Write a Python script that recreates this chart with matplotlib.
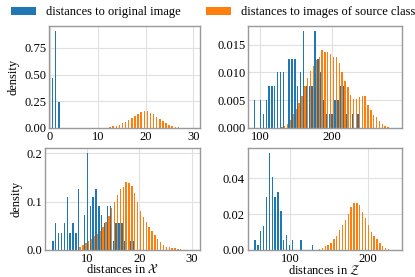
import numpy as np
import matplotlib
matplotlib.use("Agg")
import matplotlib.pyplot as plt
from matplotlib.ticker import MultipleLocator


OUTPUT_FILE = "out.png"

BLUE = "#1f77b4"
ORANGE = "#ff7f0e"
LABELS = ["distances to original image", "distances to images of source class"]
X_LABELS = [r"distances in $\mathcal{X}$", r"distances in $\mathcal{Z}$"]

# 50 shared bins per panel: first edge and bin width
BINS_A = (0.4, 0.65)
BINS_B = (91.4, 4.0)
BINS_C = (3.3, 0.55)
BINS_D = (53.9, 3.7)

# top left: density per bin
BLUE_A = [0.47, 0.91, 0.24] + [0] * 47
ORANGE_A = [0] * 15 + [
    0.001, 0.002, 0.004, 0.008, 0.014, 0.02, 0.03, 0.042, 0.058, 0.075,
    0.095, 0.115, 0.135, 0.15, 0.16, 0.156, 0.145, 0.128, 0.105, 0.085,
    0.062, 0.045, 0.03, 0.02, 0.012, 0.007, 0.004, 0.002, 0.001, 0.0005,
] + [0] * 5

# top right
BLUE_B = [
    0.005, 0, 0.005, 0.0025, 0.005, 0.0075, 0.0075, 0.0075, 0.01, 0.01,
    0.01, 0, 0.0125, 0.0125, 0.0125, 0.0075, 0.01, 0.0175, 0.0075, 0.0075,
    0.0075, 0.0175, 0.0125, 0.01, 0.005, 0.0025, 0.0025, 0.0025, 0.005, 0.005,
    0.0075, 0.0075, 0.0025, 0, 0.0025, 0, 0.0025,
] + [0] * 13
ORANGE_B = [0] * 9 + [
    0.0001, 0.0003, 0.0008, 0.0015, 0.0025, 0.0035, 0.0045, 0.0058, 0.0075, 0.009,
    0.0102, 0.0112, 0.0122, 0.0128, 0.014, 0.0137, 0.0137, 0.0133, 0.0128, 0.0128,
    0.0117, 0.01, 0.0085, 0.0073, 0.006, 0.0052, 0.0052, 0.0055, 0.0058, 0.0058,
    0.0042, 0.0032, 0.0024, 0.0019, 0.0012, 0.0008, 0.0004, 0.0002,
] + [0] * 3

# bottom left
BLUE_C = [
    0.018, 0.055, 0.036, 0.036, 0.055, 0.109, 0.036, 0.055, 0.036, 0.127,
    0, 0.073, 0.2, 0.091, 0.109, 0.127, 0.091, 0.073, 0.055, 0.091,
    0.091, 0.018, 0.055, 0.055, 0.055, 0.018, 0, 0.018, 0.018,
] + [0] * 21
ORANGE_C = [0] * 9 + [
    0.006, 0.01, 0.014, 0.018, 0.023, 0.028, 0.034, 0.04, 0.048, 0.057,
    0.07, 0.086, 0.1, 0.113, 0.125, 0.131, 0.14, 0.138, 0.133, 0.117,
    0.099, 0.081, 0.069, 0.057, 0.048, 0.039, 0.03, 0.023, 0.016, 0.011,
    0.007, 0.0055, 0.004, 0.0035, 0.003, 0.002,
] + [0] * 5

# bottom right
BLUE_D = [
    0.0054, 0.0027, 0.0108, 0.0135, 0.0297, 0.054, 0.0405, 0.0297, 0.0324, 0.0216,
    0.0054, 0.0081, 0.0027, 0.0054, 0, 0, 0.0054, 0, 0, 0, 0.0027,
] + [0] * 29
ORANGE_D = [0] * 22 + [
    0.0005, 0.001, 0.002, 0.003, 0.004, 0.006, 0.008, 0.011, 0.014, 0.017,
    0.02, 0.024, 0.026, 0.026, 0.025, 0.021, 0.018, 0.014, 0.01, 0.008,
    0.006, 0.004, 0.002, 0.0012, 0.0005,
] + [0] * 3


def setup_style():
    plt.rcParams["font.family"] = ["Liberation Serif", "DejaVu Serif"]
    plt.rcParams["mathtext.fontset"] = "stix"
    plt.rcParams["font.size"] = 9


def draw_panel(ax, bins, blue, orange, xlim, xstep, ystep):
    start, width = bins
    edges = start + width * np.arange(51)
    centers = (edges[:-1] + edges[1:]) / 2
    ax.hist([centers, centers], bins=edges, weights=[blue, orange],
            color=[BLUE, ORANGE], label=LABELS, rwidth=0.95)
    ax.set_xlim(*xlim)
    ax.xaxis.set_major_locator(MultipleLocator(xstep))
    ax.yaxis.set_major_locator(MultipleLocator(ystep))
    ax.grid(True, color="#e0e0e0", linewidth=0.8)
    ax.set_axisbelow(True)
    ax.tick_params(length=0, pad=2, labelsize=9)
    for spine in ax.spines.values():
        spine.set_color("#999999")
        spine.set_linewidth(1.0)


def main():
    setup_style()
    fig = plt.figure(figsize=(4.15, 2.77), dpi=100)

    ax_a = fig.add_axes([0.118, 0.538, 0.364, 0.368])
    ax_b = fig.add_axes([0.598, 0.538, 0.371, 0.368])
    ax_c = fig.add_axes([0.108, 0.0975, 0.374, 0.367])
    ax_d = fig.add_axes([0.597, 0.0975, 0.371, 0.367])

    draw_panel(ax_a, BINS_A, BLUE_A, ORANGE_A, (-0.2, 31.4), 10, 0.25)
    draw_panel(ax_b, BINS_B, BLUE_B, ORANGE_B, (83.3, 298), 100, 0.005)
    draw_panel(ax_c, BINS_C, BLUE_C, ORANGE_C, (1.9, 31.6), 10, 0.1)
    draw_panel(ax_d, BINS_D, BLUE_D, ORANGE_D, (45.6, 243.8), 100, 0.02)

    ax_a.set_ylabel("density", labelpad=3)
    ax_c.set_ylabel("density", labelpad=3)
    ax_c.set_xlabel(X_LABELS[0], labelpad=-1)
    ax_d.set_xlabel(X_LABELS[1], labelpad=-1)

    handles, labels = ax_a.get_legend_handles_labels()
    fig.legend(handles, labels, loc="center", bbox_to_anchor=(0.514, 0.955),
               ncol=2, frameon=False, fontsize=9)

    fig.savefig(OUTPUT_FILE, dpi=100)
    plt.close(fig)


if __name__ == "__main__":
    main()
